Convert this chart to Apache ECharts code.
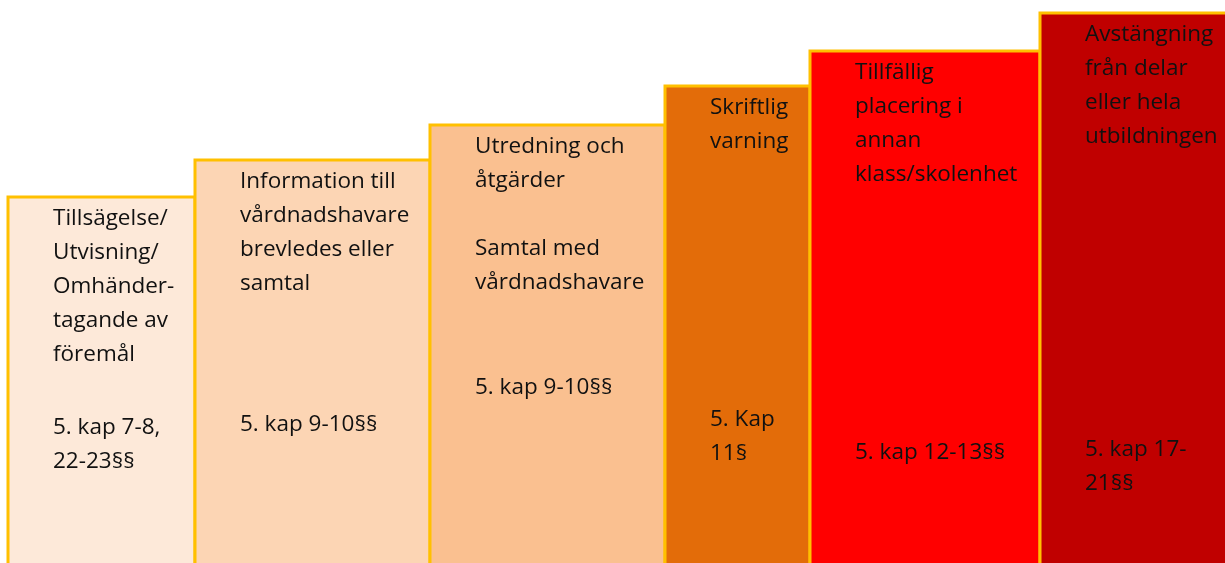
<!DOCTYPE html>
<html>
<head>
<meta charset="utf-8">
<script src="https://cdn.jsdelivr.net/npm/echarts@6/dist/echarts.min.js"></script>
<style>html,body{margin:0;padding:0;background:#fff;}#c{width:1225px;height:563px;}</style>
</head>
<body>
<div id="c"></div>
<script>
// Steps (left to right)
const stepTitles = [
  'Tillsägelse/\nUtvisning/\nOmhänder-\ntagande av\nföremål',
  'Information till\nvårdnadshavare\nbrevledes eller\nsamtal',
  'Utredning och\nåtgärder\n\nSamtal med\nvårdnadshavare',
  'Skriftlig\nvarning',
  'Tillfällig\nplacering i\nannan\nklass/skolenhet',
  'Avstängning\nfrån delar\neller hela\nutbildningen'
];
const stepRefs = [
  '5. kap 7-8,\n22-23§§',
  '5. kap 9-10§§',
  '5. kap 9-10§§',
  '5. Kap\n11§',
  '5. kap 12-13§§',
  '5. kap 17-\n21§§'
];
// step extents along the x scale and step heights along the y scale
const stepStart = [8, 195, 430, 665, 810, 1040];
const stepEnd = [195, 430, 665, 810, 1040, 1240];
const stepHeight = [366, 403, 438, 477, 512, 550];

// layout / style (kept separate from data)
const refLevel = [135, 138, 175, 143, 110, 113]; // y-scale level of centre of first reference line
const fills = ['#FDE9D9', '#FCD5B4', '#FAC090', '#E36C09', '#FF0000', '#C00000'];
const borderColor = '#FFC000';
const textFont = '22.5px "Open Sans"';

const data = stepStart.map((s, i) => [s, stepEnd[i], stepHeight[i], i]);

const chart = echarts.init(document.getElementById('c'), null, {renderer: 'canvas'});
chart.setOption({
  animation: false,
  grid: {left: 0, right: 0, top: 0, bottom: 0},
  xAxis: {type: 'value', min: 0, max: 1225, show: false},
  yAxis: {type: 'value', min: 0, max: 563, show: false},
  series: [{
    type: 'custom',
    clip: false,
    data: data,
    encode: {x: [0, 1], y: 2},
    renderItem: function (params, api) {
      const i = api.value(3);
      const p0 = api.coord([api.value(0), api.value(2)]);
      const p1 = api.coord([api.value(1), 0]);
      const refP = api.coord([api.value(0), refLevel[i]]);
      return {
        type: 'group',
        children: [
          {
            type: 'rect',
            shape: {x: p0[0], y: p0[1], width: p1[0] - p0[0], height: p1[1] - p0[1] + 10},
            style: {fill: fills[i], stroke: borderColor, lineWidth: 3}
          },
          {
            type: 'text',
            style: {
              text: stepTitles[i], x: p0[0] + 45, y: p0[1] + 5,
              font: textFont, lineHeight: 34, fill: '#111',
              verticalAlign: 'top', align: 'left'
            }
          },
          {
            type: 'text',
            style: {
              text: stepRefs[i], x: p0[0] + 45, y: refP[1] - 17,
              font: textFont, lineHeight: 34, fill: '#111',
              verticalAlign: 'top', align: 'left'
            }
          }
        ]
      };
    }
  }]
});
</script>
</body>
</html>
